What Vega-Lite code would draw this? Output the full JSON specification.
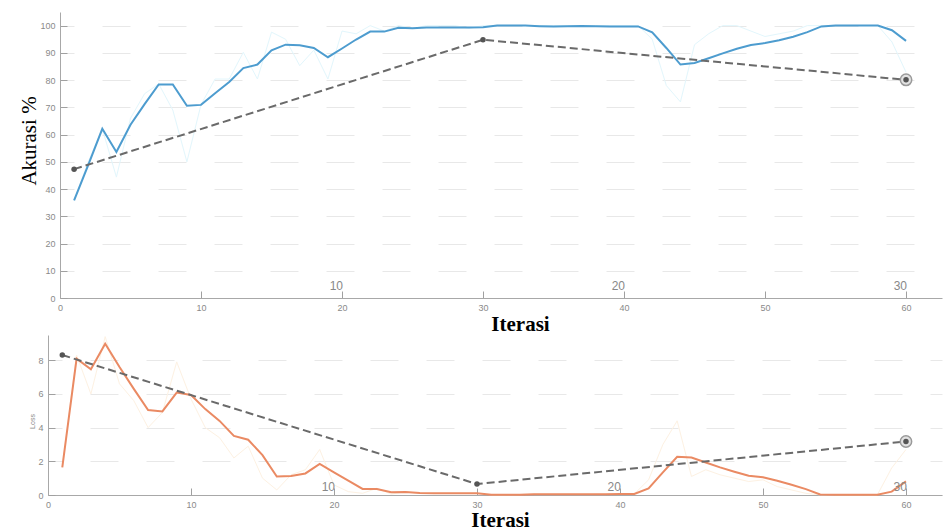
{
  "$schema": "https://vega.github.io/schema/vega-lite/v6.json",
  "background": "white",
  "padding": {"left": 18, "top": 12, "right": 0, "bottom": 0},
  "spacing": 0,
  "config": {
    "view": {"stroke": null},
    "axis": {
      "domainColor": "#a8a8a8",
      "tickColor": "#a0a0a0",
      "ticks": true,
      "tickSize": -7,
      "labelColor": "#8a8a8a",
      "labelFont": "Liberation Sans",
      "labelFontSize": 9,
      "labelPadding": 12,
      "labelFlush": false,
      "labelOverlap": false,
      "grid": false,
      "titleFont": "Liberation Serif",
      "titleColor": "#000000",
      "titleFontWeight": "normal"
    },
    "axisY": {"grid": true, "gridColor": "#e8e8e8", "gridDash": [28, 28], "gridDashOffset": 14}
  },
  "datasets": {
    "accsmooth": [
      {"iter": 1, "v": 35.8}, {"iter": 2, "v": 48.8}, {"iter": 3, "v": 62.1}, {"iter": 4, "v": 53.6},
      {"iter": 5, "v": 63.6}, {"iter": 6, "v": 71.2}, {"iter": 7, "v": 78.4}, {"iter": 8, "v": 78.4},
      {"iter": 9, "v": 70.6}, {"iter": 10, "v": 70.9}, {"iter": 11, "v": 75.2}, {"iter": 12, "v": 79.3},
      {"iter": 13, "v": 84.4}, {"iter": 14, "v": 85.7}, {"iter": 15, "v": 90.9}, {"iter": 16, "v": 93.0},
      {"iter": 17, "v": 92.8}, {"iter": 18, "v": 91.8}, {"iter": 19, "v": 88.4}, {"iter": 20, "v": 91.6},
      {"iter": 21, "v": 94.9}, {"iter": 22, "v": 97.8}, {"iter": 23, "v": 97.8}, {"iter": 24, "v": 99.2},
      {"iter": 25, "v": 99.0}, {"iter": 26, "v": 99.3}, {"iter": 27, "v": 99.3}, {"iter": 28, "v": 99.3},
      {"iter": 29, "v": 99.3}, {"iter": 30, "v": 99.4}, {"iter": 31, "v": 100}, {"iter": 32, "v": 100},
      {"iter": 33, "v": 100}, {"iter": 34, "v": 99.8}, {"iter": 35, "v": 99.7}, {"iter": 36, "v": 99.8},
      {"iter": 37, "v": 99.9}, {"iter": 38, "v": 99.8}, {"iter": 39, "v": 99.7}, {"iter": 40, "v": 99.7},
      {"iter": 41, "v": 99.7}, {"iter": 42, "v": 97.5}, {"iter": 43, "v": 91.8}, {"iter": 44, "v": 85.7},
      {"iter": 45, "v": 86.3}, {"iter": 46, "v": 88.0}, {"iter": 47, "v": 89.8}, {"iter": 48, "v": 91.5},
      {"iter": 49, "v": 92.9}, {"iter": 50, "v": 93.6}, {"iter": 51, "v": 94.6}, {"iter": 52, "v": 95.9},
      {"iter": 53, "v": 97.6}, {"iter": 54, "v": 99.7}, {"iter": 55, "v": 100}, {"iter": 56, "v": 100},
      {"iter": 57, "v": 100}, {"iter": 58, "v": 100}, {"iter": 59, "v": 98.3}, {"iter": 60, "v": 94.4}
    ],
    "accraw": [
      {"iter": 1, "v": 35.8}, {"iter": 2, "v": 50}, {"iter": 3, "v": 62.1}, {"iter": 4, "v": 44.4},
      {"iter": 5, "v": 66}, {"iter": 6, "v": 75}, {"iter": 7, "v": 78.6}, {"iter": 8, "v": 69},
      {"iter": 9, "v": 50}, {"iter": 10, "v": 71}, {"iter": 11, "v": 80.4}, {"iter": 12, "v": 80.4},
      {"iter": 13, "v": 90.2}, {"iter": 14, "v": 80.4}, {"iter": 15, "v": 97.6}, {"iter": 16, "v": 95},
      {"iter": 17, "v": 85.3}, {"iter": 18, "v": 91}, {"iter": 19, "v": 80.4}, {"iter": 20, "v": 98},
      {"iter": 21, "v": 97}, {"iter": 22, "v": 100}, {"iter": 23, "v": 98}, {"iter": 24, "v": 100},
      {"iter": 25, "v": 99}, {"iter": 26, "v": 100}, {"iter": 27, "v": 100}, {"iter": 28, "v": 100},
      {"iter": 29, "v": 99}, {"iter": 30, "v": 100}, {"iter": 31, "v": 100}, {"iter": 32, "v": 100},
      {"iter": 33, "v": 100}, {"iter": 34, "v": 100}, {"iter": 35, "v": 100}, {"iter": 36, "v": 100},
      {"iter": 37, "v": 100}, {"iter": 38, "v": 100}, {"iter": 39, "v": 100}, {"iter": 40, "v": 100},
      {"iter": 41, "v": 100}, {"iter": 42, "v": 95}, {"iter": 43, "v": 78}, {"iter": 44, "v": 72},
      {"iter": 45, "v": 93}, {"iter": 46, "v": 97}, {"iter": 47, "v": 100}, {"iter": 48, "v": 100},
      {"iter": 49, "v": 98}, {"iter": 50, "v": 96}, {"iter": 51, "v": 97}, {"iter": 52, "v": 98},
      {"iter": 53, "v": 100}, {"iter": 54, "v": 100}, {"iter": 55, "v": 100}, {"iter": 56, "v": 100},
      {"iter": 57, "v": 100}, {"iter": 58, "v": 100}, {"iter": 59, "v": 94}, {"iter": 60, "v": 82.9}
    ],
    "valacc": [
      {"iter": 1, "v": 47.3},
      {"iter": 30, "v": 94.8},
      {"iter": 60, "v": 80.1}
    ],
    "losssmooth": [
      {"iter": 1, "v": 1.64}, {"iter": 2, "v": 8.1}, {"iter": 3, "v": 7.47}, {"iter": 4, "v": 8.98},
      {"iter": 5, "v": 7.6}, {"iter": 6, "v": 6.3}, {"iter": 7, "v": 5.04}, {"iter": 8, "v": 4.96},
      {"iter": 9, "v": 6.08}, {"iter": 10, "v": 5.94}, {"iter": 11, "v": 5.1}, {"iter": 12, "v": 4.4},
      {"iter": 13, "v": 3.51}, {"iter": 14, "v": 3.28}, {"iter": 15, "v": 2.37}, {"iter": 16, "v": 1.1},
      {"iter": 17, "v": 1.13}, {"iter": 18, "v": 1.28}, {"iter": 19, "v": 1.84}, {"iter": 20, "v": 1.34},
      {"iter": 21, "v": 0.85}, {"iter": 22, "v": 0.36}, {"iter": 23, "v": 0.36}, {"iter": 24, "v": 0.16},
      {"iter": 25, "v": 0.18}, {"iter": 26, "v": 0.12}, {"iter": 27, "v": 0.11}, {"iter": 28, "v": 0.11},
      {"iter": 29, "v": 0.11}, {"iter": 30, "v": 0.1}, {"iter": 31, "v": 0.02}, {"iter": 32, "v": 0.01},
      {"iter": 33, "v": 0.02}, {"iter": 34, "v": 0.05}, {"iter": 35, "v": 0.05}, {"iter": 36, "v": 0.05},
      {"iter": 37, "v": 0.04}, {"iter": 38, "v": 0.04}, {"iter": 39, "v": 0.05}, {"iter": 40, "v": 0.06},
      {"iter": 41, "v": 0.06}, {"iter": 42, "v": 0.39}, {"iter": 43, "v": 1.34}, {"iter": 44, "v": 2.27},
      {"iter": 45, "v": 2.23}, {"iter": 46, "v": 1.93}, {"iter": 47, "v": 1.64}, {"iter": 48, "v": 1.38},
      {"iter": 49, "v": 1.14}, {"iter": 50, "v": 1.05}, {"iter": 51, "v": 0.85}, {"iter": 52, "v": 0.61},
      {"iter": 53, "v": 0.35}, {"iter": 54, "v": 0.03}, {"iter": 55, "v": 0.01}, {"iter": 56, "v": 0.01},
      {"iter": 57, "v": 0.01}, {"iter": 58, "v": 0.01}, {"iter": 59, "v": 0.2}, {"iter": 60, "v": 0.81}
    ],
    "lossraw": [
      {"iter": 1, "v": 1.64}, {"iter": 2, "v": 8.3}, {"iter": 3, "v": 6.0}, {"iter": 4, "v": 9.4},
      {"iter": 5, "v": 6.6}, {"iter": 6, "v": 5.6}, {"iter": 7, "v": 4.0}, {"iter": 8, "v": 4.9},
      {"iter": 9, "v": 7.9}, {"iter": 10, "v": 5.7}, {"iter": 11, "v": 4.0}, {"iter": 12, "v": 3.4},
      {"iter": 13, "v": 2.2}, {"iter": 14, "v": 2.9}, {"iter": 15, "v": 1.0}, {"iter": 16, "v": 0.3},
      {"iter": 17, "v": 1.2}, {"iter": 18, "v": 1.5}, {"iter": 19, "v": 2.7}, {"iter": 20, "v": 0.6},
      {"iter": 21, "v": 0.2}, {"iter": 22, "v": 0.1}, {"iter": 23, "v": 0.4}, {"iter": 24, "v": 0.05},
      {"iter": 25, "v": 0.2}, {"iter": 26, "v": 0.1}, {"iter": 27, "v": 0.1}, {"iter": 28, "v": 0.1},
      {"iter": 29, "v": 0.1}, {"iter": 30, "v": 0.1}, {"iter": 31, "v": 0.01}, {"iter": 32, "v": 0.01},
      {"iter": 33, "v": 0.02}, {"iter": 34, "v": 0.06}, {"iter": 35, "v": 0.05}, {"iter": 36, "v": 0.05},
      {"iter": 37, "v": 0.04}, {"iter": 38, "v": 0.04}, {"iter": 39, "v": 0.05}, {"iter": 40, "v": 0.06},
      {"iter": 41, "v": 0.06}, {"iter": 42, "v": 0.9}, {"iter": 43, "v": 3.0}, {"iter": 44, "v": 4.4},
      {"iter": 45, "v": 1.1}, {"iter": 46, "v": 1.5}, {"iter": 47, "v": 1.2}, {"iter": 48, "v": 1.0},
      {"iter": 49, "v": 0.8}, {"iter": 50, "v": 0.9}, {"iter": 51, "v": 0.5}, {"iter": 52, "v": 0.3},
      {"iter": 53, "v": 0.1}, {"iter": 54, "v": 0.01}, {"iter": 55, "v": 0.01}, {"iter": 56, "v": 0.01},
      {"iter": 57, "v": 0.01}, {"iter": 58, "v": 0.01}, {"iter": 59, "v": 1.6}, {"iter": 60, "v": 2.7}
    ],
    "valloss": [
      {"iter": 1, "v": 8.31},
      {"iter": 30, "v": 0.65},
      {"iter": 60, "v": 3.18}
    ],
    "epochs": [
      {"iter": 20, "v": 0, "label": "10"},
      {"iter": 40, "v": 0, "label": "20"},
      {"iter": 60, "v": 0, "label": "30"}
    ]
  },
  "vconcat": [
    {
      "width": 882,
      "height": 286,
      "encoding": {
        "x": {
          "field": "iter",
          "type": "quantitative",
          "scale": {"domain": [0, 62.55], "nice": false, "zero": false},
          "axis": {
            "values": [0, 10, 20, 30, 40, 50, 60],
            "title": "Iterasi",
            "titleFontSize": 21,
            "titleFontWeight": "bold",
            "titleX": 460,
            "titleY": 32,
            "titleBaseline": "alphabetic",
            "titleAlign": "center"
          }
        },
        "y": {
          "field": "v",
          "type": "quantitative",
          "scale": {"domain": [0, 105], "nice": false},
          "axis": {
            "values": [0, 10, 20, 30, 40, 50, 60, 70, 80, 90, 100],
            "title": "Akurasi %",
            "titleFontSize": 21,
            "titleX": -25,
            "titleY": 128.5,
            "titleAngle": -90,
            "titleAlign": "center",
            "titleBaseline": "alphabetic"
          }
        }
      },
      "layer": [
        {
          "data": {"name": "accraw"},
          "mark": {"type": "line", "color": "#e2f6fc", "strokeWidth": 1}
        },
        {
          "data": {"name": "accsmooth"},
          "mark": {"type": "line", "color": "#4d9ccf", "strokeWidth": 2}
        },
        {
          "data": {"name": "valacc"},
          "mark": {"type": "line", "color": "#6a6a6a", "strokeWidth": 2, "strokeDash": [8, 4]}
        },
        {
          "data": {"name": "valacc"},
          "transform": [{"filter": "datum.iter == 60"}],
          "mark": {"type": "point", "filled": true, "fill": "#e2e2e2", "stroke": "#9a9a9a", "strokeWidth": 1.5, "size": 130, "opacity": 1}
        },
        {
          "data": {"name": "valacc"},
          "mark": {"type": "point", "filled": true, "color": "#555555", "size": 30, "opacity": 1}
        },
        {
          "data": {"name": "epochs"},
          "mark": {"type": "text", "align": "right", "baseline": "alphabetic", "dx": 1, "dy": -8, "fontSize": 12, "font": "Liberation Sans", "color": "#888888"},
          "encoding": {"text": {"field": "label"}}
        }
      ]
    },
    {
      "width": 882,
      "height": 160,
      "encoding": {
        "x": {
          "field": "iter",
          "type": "quantitative",
          "scale": {"domain": [0, 62.52], "range": [-12, 882], "nice": false, "zero": false},
          "axis": {
            "values": [0, 10, 20, 30, 40, 50, 60],
            "title": "Iterasi",
            "titleFontSize": 21,
            "titleFontWeight": "bold",
            "titleX": 440,
            "titleY": 31,
            "titleBaseline": "alphabetic",
            "titleAlign": "center"
          }
        },
        "y": {
          "field": "v",
          "type": "quantitative",
          "scale": {"domain": [0, 9.5], "nice": false},
          "axis": {
            "values": [0, 2, 4, 6, 8],
            "offset": 12,
            "title": "Loss",
            "titleFont": "Liberation Sans",
            "titleFontSize": 7,
            "titleColor": "#8a8a8a",
            "titleX": -14,
            "titleY": 86,
            "titleAngle": -90,
            "titleAlign": "center",
            "titleBaseline": "alphabetic"
          }
        }
      },
      "layer": [
        {
          "data": {"name": "lossraw"},
          "mark": {"type": "line", "color": "#fdf1e2", "strokeWidth": 1}
        },
        {
          "data": {"name": "losssmooth"},
          "mark": {"type": "line", "color": "#ea8a63", "strokeWidth": 2}
        },
        {
          "data": {"name": "valloss"},
          "mark": {"type": "line", "color": "#6a6a6a", "strokeWidth": 2, "strokeDash": [8, 4]}
        },
        {
          "data": {"name": "valloss"},
          "transform": [{"filter": "datum.iter == 60"}],
          "mark": {"type": "point", "filled": true, "fill": "#e2e2e2", "stroke": "#9a9a9a", "strokeWidth": 1.5, "size": 130, "opacity": 1}
        },
        {
          "data": {"name": "valloss"},
          "mark": {"type": "point", "filled": true, "color": "#555555", "size": 30, "opacity": 1}
        },
        {
          "data": {"name": "epochs"},
          "mark": {"type": "text", "align": "right", "baseline": "alphabetic", "dx": 1, "dy": -4, "fontSize": 12, "font": "Liberation Sans", "color": "#888888"},
          "encoding": {"text": {"field": "label"}}
        }
      ]
    }
  ]
}
